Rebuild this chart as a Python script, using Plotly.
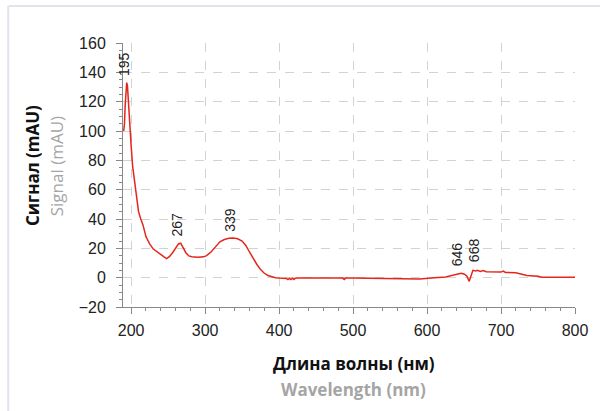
import plotly.graph_objects as go

# Spectrum data
wavelength = [190, 191, 192, 193, 194, 195, 196, 197, 198, 199, 200, 202, 204, 206, 208, 210,
              213, 216, 220, 225, 230, 235, 240, 245, 248, 252, 256, 260, 264, 267, 270,
              274, 278, 282, 290, 298, 302, 308, 314, 320, 326, 332, 338, 344, 350, 355,
              360, 365, 370, 375, 380, 385, 390, 395, 400, 410, 412, 414, 416, 418, 420,
              422, 425, 450, 486, 488, 490, 500, 560, 565, 590, 600, 610, 625, 630, 640,
              646, 650, 654, 657, 660, 662, 666, 668, 672, 676, 680, 690, 700, 703, 706,
              720, 728, 735, 750, 755, 800]
signal = [100, 105, 118, 128, 133, 131, 121, 118, 110, 100, 90, 76, 68, 58, 50, 45,
          40, 36, 28, 23, 19.5, 17.5, 16, 14, 13, 14.5, 17, 20, 23, 23.5, 21,
          17, 14.8, 14.2, 14, 14.2, 15, 17.5, 21, 24.5, 26, 26.8, 27, 26.5, 25, 22,
          17.5, 13, 9, 5.5, 3, 1.5, 0.5, 0, -0.3, -0.5, -1.3, -0.5, -1.3, -0.4, -1.2,
          -0.4, -0.3, -0.3, -0.3, -1.2, -0.3, -0.3, -0.3, -0.8, -0.9, -0.7, 0, 0.5, 1, 2,
          3, 2.5, 1, -2.5, 2, 5, 4.5, 5, 4.3, 4.8, 4, 4, 3.8, 4.5, 3.6,
          3.3, 2.2, 1.5, 1, 0.3, 0.3]

peak_labels = ["195", "267", "339", "646", "668"]
peak_x = [195, 267, 339, 646, 668]
peak_label_y = [146, 36, 39.5, 16, 19]

y_ticks = [-20, 0, 20, 40, 60, 80, 100, 120, 140, 160]
x_ticks = [200, 300, 400, 500, 600, 700, 800]

fig = go.Figure()
fig.add_trace(go.Scatter(x=wavelength, y=signal, mode="lines",
                         line=dict(color="#e3261c", width=1.5), showlegend=False,
                         hoverinfo="skip"))

for lab, px, py in zip(peak_labels, peak_x, peak_label_y):
    fig.add_annotation(x=px, y=py, xref="x", yref="y", text=lab, textangle=-90,
                       showarrow=False, xshift=-4,
                       font=dict(family="Liberation Sans, Arial", size=14, color="#222"))

title_font = "Open Sans, Noto Sans, sans-serif"
fig.add_annotation(x=-0.2013, y=0.534, xref="paper", yref="paper", text="<b>Сигнал (mAU)</b>",
                   textangle=-90, showarrow=False, xanchor="center", yanchor="middle",
                   font=dict(family=title_font, size=17, color="#111"))
fig.add_annotation(x=-0.1477, y=0.534, xref="paper", yref="paper", text="Signal (mAU)",
                   textangle=-90, showarrow=False, xanchor="center", yanchor="middle",
                   font=dict(family=title_font, size=17, color="#a5a5a5"))
fig.add_annotation(x=0.51, y=-0.2133, xref="paper", yref="paper", text="<b>Длина волны (нм)</b>",
                   showarrow=False, xanchor="center", yanchor="middle",
                   font=dict(family=title_font, size=17, color="#111"))
fig.add_annotation(x=0.51, y=-0.314, xref="paper", yref="paper", text="<b>Wavelength (nm)</b>",
                   showarrow=False, xanchor="center", yanchor="middle",
                   font=dict(family=title_font, size=17, color="#a5a5a5"))

# outer faint frame
fig.add_shape(type="line", xref="paper", yref="paper", x0=-0.253, x1=1.2, y0=1.14, y1=1.14,
              line=dict(color="#e3e3ec", width=2))
fig.add_shape(type="line", xref="paper", yref="paper", x0=-0.254, x1=-0.254, y0=-0.4, y1=1.14,
              line=dict(color="#e3e3ec", width=2))

tick_font = dict(family="Liberation Sans, Arial", size=16, color="#222")
fig.update_xaxes(range=[189, 800], tickvals=x_ticks, ticks="outside", ticklen=6,
                 tickcolor="#888", showline=True, linecolor="#888", linewidth=1,
                 showgrid=True, gridcolor="#d2d2d2", griddash="dash", gridwidth=1,
                 zeroline=False, tickfont=tick_font, ticklabelstandoff=3,
                 minor=dict(dtick=20, ticks="outside", ticklen=3, tickcolor="#888", showgrid=False))
fig.update_yaxes(range=[-20, 160], tickvals=y_ticks, ticks="outside", ticklen=6,
                 tickcolor="#888", showline=True, linecolor="#888", linewidth=1,
                 showgrid=True, gridcolor="#d2d2d2", griddash="dash", gridwidth=1,
                 zeroline=False, tickfont=tick_font, ticklabelstandoff=7,
                 minor=dict(dtick=5, ticks="outside", ticklen=3, tickcolor="#888", showgrid=False))

fig.update_layout(width=600, height=411, margin=dict(l=123, r=20, t=43, b=104),
                  plot_bgcolor="white", paper_bgcolor="white")

fig.write_html("out.html", config={"displayModeBar": False},
               post_script="document.body.style.margin='0';document.body.style.overflow='hidden';"
                           "document.documentElement.style.overflow='hidden';")
